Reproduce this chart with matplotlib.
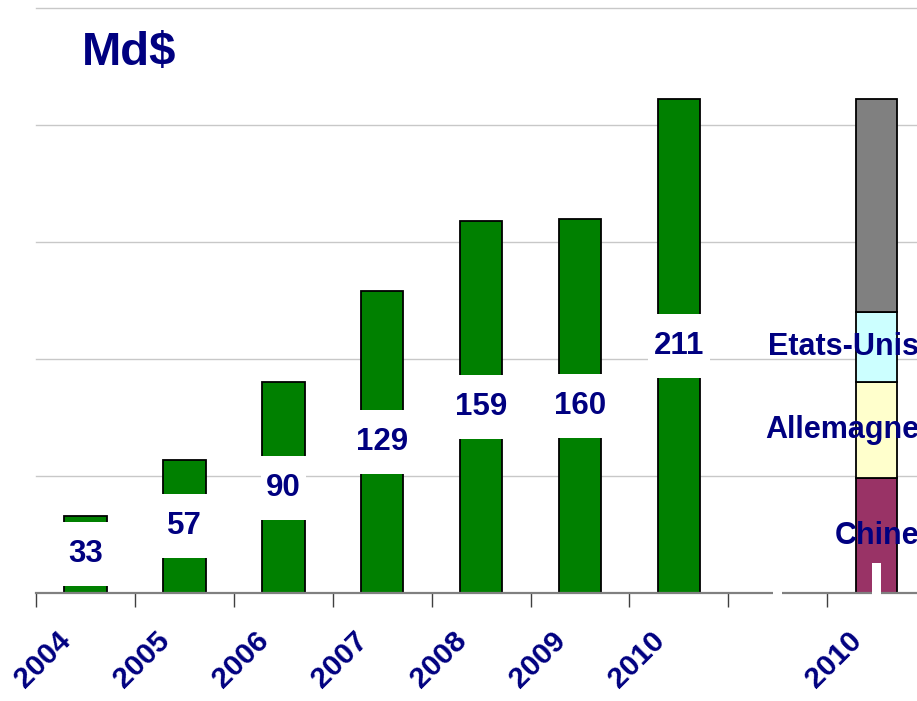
import matplotlib
matplotlib.use("Agg")
import matplotlib.pyplot as plt
from matplotlib.patches import Rectangle
from matplotlib.transforms import ScaledTranslation

plt.rcParams['font.family'] = ['Liberation Sans', 'DejaVu Sans']

years = ["2004", "2005", "2006", "2007", "2008", "2009", "2010"]
totals = [33, 57, 90, 129, 159, 160, 211]
stack_label = "2010"
stack_names = ["Chine", "Allemagne", "Etats-Unis", "Autres"]
stack_values = [49, 41, 30, 91]
stack_colors = ["#993366", "#FFFFCC", "#CCFFFF", "#808080"]
unit_label = "Md$"

NAVY = "#000080"
GREEN = "#008000"

W, H = 917, 701
fig = plt.figure(figsize=(W / 100, H / 100), dpi=100)
x0, x1 = 36, 917
y0, y1 = 593, 8
ax = fig.add_axes([x0 / W, (H - y0) / H, (x1 - x0) / W, (y0 - y1) / H])

cat_px = 98.9
xmax = (x1 - x0) / cat_px - 0.5

for s in ["left", "right", "top"]:
    ax.spines[s].set_visible(False)
ax.spines["bottom"].set_color("#808080")
ax.spines["bottom"].set_linewidth(1.6)

bw = 0.43
xs = list(range(len(years)))
ax.bar(xs, totals, width=bw, color=GREEN, edgecolor="black", linewidth=1.3, zorder=2)

# value labels with white boxes
for x, v in zip(xs, totals):
    s = str(v)
    boxw = 0.45 if len(s) == 2 else 0.63
    boxh = 27.4
    ax.add_patch(Rectangle((x - boxw / 2, v / 2 - boxh / 2), boxw, boxh,
                           facecolor="white", edgecolor="none", zorder=3))
    ax.text(x, v / 2, s, ha="center", va="center", fontsize=22.5,
            fontweight="bold", color=NAVY, zorder=4)

# stacked 2010
xs_stack = len(years) + 1
bottom = 0
for name, v, c in zip(stack_names, stack_values, stack_colors):
    ax.bar(xs_stack, v, bottom=bottom, width=0.41, color=c, edgecolor="black",
           linewidth=1.3, zorder=2)
    if name != "Autres":
        ax.text((919 - x0) / cat_px - 0.5, bottom + v / 2, name, ha="right",
                va="center", fontsize=22, fontweight="bold", color=NAVY,
                zorder=5, clip_on=False)
    bottom += v

# small white label-box remnants near the stacked bar (as in the original)
def px2x(px):
    return (px - x0) / cat_px - 0.5
for (pa, pb, h) in [(773, 782, 1.5), (872, 881, 13.0)]:
    ax.add_patch(Rectangle((px2x(pa), -1.0), px2x(pb) - px2x(pa), h + 1.0,
                           facecolor="white", edgecolor="none", zorder=3.5,
                           clip_on=False))

# grid
ax.set_yticks([50, 100, 150, 200, 250])
ax.yaxis.grid(True, color="#C8C8C8", lw=1.0)
ax.set_axisbelow(True)
ax.tick_params(axis="y", left=False, labelleft=False)

# ticks
ax.set_xticks([x - 0.5 for x in range(9)], minor=True)
ax.tick_params(axis="x", which="minor", length=10, width=1, color="#404040",
               direction="out")
ax.set_xticks(xs + [len(years), xs_stack])
ax.set_xticklabels(years + ["", stack_label])
ax.tick_params(axis="x", which="major", length=0, pad=24)
off = ScaledTranslation(-9 / 100, 0, fig.dpi_scale_trans)
for lab in ax.get_xticklabels():
    lab.set_rotation(45)
    lab.set_ha("right")
    lab.set_fontsize(21.5)
    lab.set_fontweight("bold")
    lab.set_color(NAVY)
    lab.set_transform(lab.get_transform() + off)

# limits last so that tick setting cannot widen them
ax.set_xlim(-0.5, xmax)
ax.set_ylim(0, 250)
for gl in ax.get_ygridlines():
    gl.set_clip_on(False)

fig.text(82 / W, 1 - 53 / H, unit_label, ha="left", va="center", fontsize=34,
         fontweight="bold", color=NAVY)

fig.savefig("out.png", dpi=100)
